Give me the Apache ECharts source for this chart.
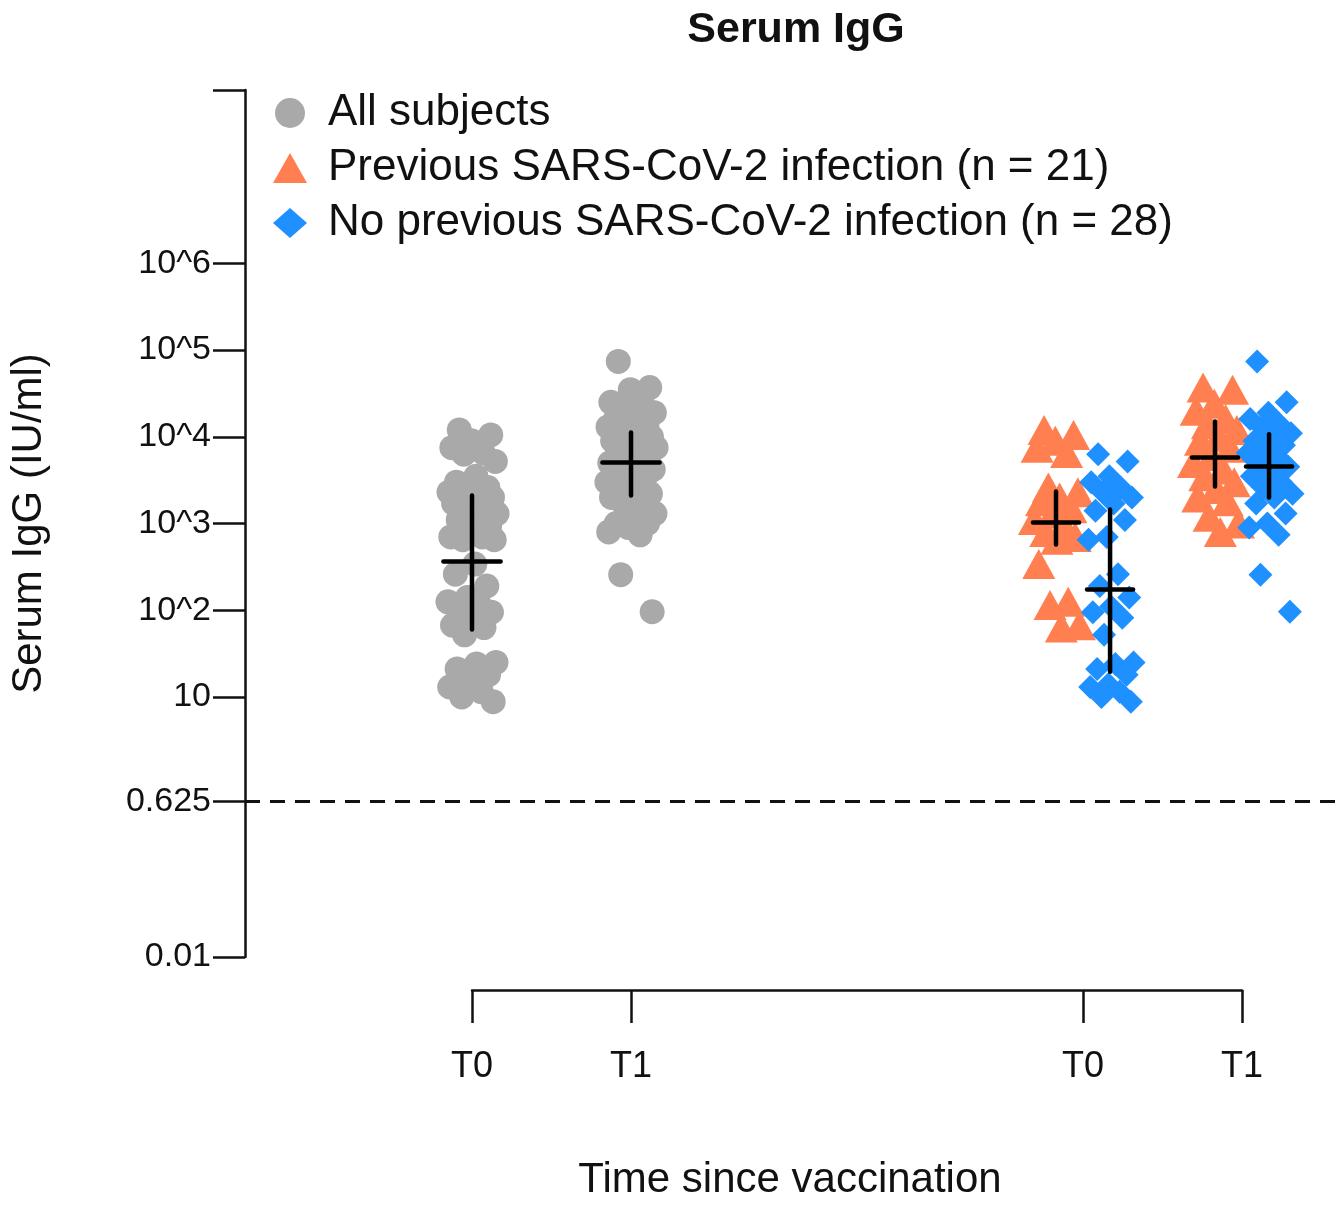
<!DOCTYPE html>
<html>
<head>
<meta charset="utf-8">
<script src="https://cdn.jsdelivr.net/npm/echarts@6/dist/echarts.min.js"></script>
<style>
html,body{margin:0;padding:0;background:#fff;}
#chart{width:1341px;height:1210px;}
</style>
</head>
<body>
<div id="chart"></div>
<script>
// ---------------- data (IU/ml) ----------------
const timeLabels = ['T0', 'T1'];
const seriesNames = ['All subjects', 'Previous SARS-CoV-2 infection (n = 21)', 'No previous SARS-CoV-2 infection (n = 28)'];

const prevT0 = [12000, 10500, 9000, 7500, 6500, 2600, 2300, 2000, 1800, 1500, 1300, 1100, 950, 800, 700, 650, 340, 125, 115, 67, 63];
const prevT1 = [37000, 35000, 24000, 20000, 16000, 14000, 12000, 10000, 9000, 7500, 6000, 5000, 4200, 3500, 3000, 2500, 2000, 1800, 1200, 1000, 800];
const noPrevT0 = [6300, 5200, 3500, 3000, 2600, 2300, 2000, 1700, 1400, 1100, 700, 650, 260, 190, 140, 110, 95, 82, 52, 25, 24, 21, 18, 14, 13, 11.5, 10, 8.8];
const noPrevT1 = [74000, 25000, 19000, 16000, 14000, 13000, 11000, 9800, 9000, 8000, 7000, 6500, 6000, 5000, 4500, 4000, 3500, 3000, 2600, 2200, 2000, 1700, 1300, 1000, 900, 740, 257, 96];

// summary (centre, lower, upper) per time point
const allMean = [364, 5060];
const allLow = [60, 2100];
const allHigh = [2100, 11200];
const prevMean = [1028, 5780];
const prevLow = [572, 2675];
const prevHigh = [2340, 15000];
const noPrevMean = [173, 4550];
const noPrevLow = [19.5, 2000];
const noPrevHigh = [1452, 10700];

const yTickValues = [0.01, 0.625, 10, 100, 1000, 10000, 100000, 1000000];
const yTickLabels = ['0.01', '0.625', '10', '10^2', '10^3', '10^4', '10^5', '10^6'];
const yTop = 1e8;
const lodValue = 0.625;

// ---------------- layout constants ----------------
const allT0 = prevT0.concat(noPrevT0);
const allT1 = prevT1.concat(noPrevT1);
const POS = { allT0: 1, allT1: 2, grpT0: 4.843, grpT1: 5.843 };
const SUB = 0.17;
const FONT = "'Liberation Sans', Arial, Helvetica, sans-serif";
const TXT = '#111';
const GRAY = '#a9a9a9', ORANGE = '#ff7f50', BLUE = '#1e90ff';

function jitter(values, center, halfW) {
  const order = values.map((v, i) => [v, i]).sort((a, b) => b[0] - a[0]);
  const out = new Array(values.length);
  order.forEach(([v, i], r) => {
    const f = ((r * 0.618034 + 0.25) % 1) - 0.5;
    out[i] = [center + f * 2 * halfW, Math.log10(v)];
  });
  return out;
}
const L = Math.log10;

const grayData = jitter(allT0, POS.allT0, 0.16).concat(jitter(allT1, POS.allT1, 0.16));
const orangeData = jitter(prevT0, POS.grpT0 - SUB, 0.15).concat(jitter(prevT1, POS.grpT1 - SUB, 0.15));
const blueData = jitter(noPrevT0, POS.grpT0 + SUB, 0.15).concat(jitter(noPrevT1, POS.grpT1 + SUB, 0.15));

const crossData = [
  [POS.allT0, L(allMean[0]), L(allLow[0]), L(allHigh[0]), 0.18],
  [POS.allT1, L(allMean[1]), L(allLow[1]), L(allHigh[1]), 0.18],
  [POS.grpT0 - SUB, L(prevMean[0]), L(prevLow[0]), L(prevHigh[0]), 0.145],
  [POS.grpT1 - SUB, L(prevMean[1]), L(prevLow[1]), L(prevHigh[1]), 0.145],
  [POS.grpT0 + SUB, L(noPrevMean[0]), L(noPrevLow[0]), L(noPrevHigh[0]), 0.145],
  [POS.grpT1 + SUB, L(noPrevMean[1]), L(noPrevLow[1]), L(noPrevHigh[1]), 0.145]
];

const xTickVals = [POS.allT0, POS.allT1, POS.grpT0, POS.grpT1];
const xTickText = [timeLabels[0], timeLabels[1], timeLabels[0], timeLabels[1]];

const chart = echarts.init(document.getElementById('chart'), null, { renderer: 'canvas' });
const option = {
  backgroundColor: '#fff',
  animation: false,
  textStyle: { fontFamily: FONT },
  title: {
    text: 'Serum IgG',
    left: 791, top: 4, textAlign: 'center',
    textStyle: { fontFamily: FONT, fontWeight: 'bold', fontSize: 43, color: TXT }
  },
  legend: {
    data: [
      { name: seriesNames[0], icon: 'circle' },
      { name: seriesNames[1], icon: 'triangle' },
      { name: seriesNames[2], icon: 'diamond' }
    ],
    orient: 'vertical',
    left: 268, top: 86,
    itemWidth: 34, itemHeight: 30,
    itemGap: 11,
    textStyle: { fontFamily: FONT, fontSize: 44, color: TXT, lineHeight: 44, padding: [0, 0, 0, 16] },
    selectedMode: false
  },
  grid: [
    { left: 245, right: 6, top: 90, bottom: 253, outerBoundsMode: 'none' },
    { left: 472, right: 99, top: 960, height: 30, outerBoundsMode: 'none' }
  ],
  xAxis: [
    {
      type: 'value', gridIndex: 0, min: -0.4277, max: 6.4277, position: 'bottom',
      axisLine: { show: false, onZero: false }, axisTick: { show: false }, axisLabel: { show: false }, splitLine: { show: false },
      name: 'Time since vaccination', nameLocation: 'middle', nameGap: 202,
      nameTextStyle: { fontFamily: FONT, fontSize: 42, color: TXT }
    },
    {
      type: 'value', gridIndex: 1, min: 1, max: 5.843, position: 'bottom',
      axisLine: { show: true, onZero: false, lineStyle: { color: '#111', width: 2.5 } },
      axisTick: { show: true, customValues: xTickVals, length: 33, lineStyle: { color: '#111', width: 2.5 } },
      axisLabel: {
        show: true, customValues: xTickVals, margin: 59,
        fontFamily: FONT, fontSize: 36, color: TXT,
        formatter: function (v) {
          for (let i = 0; i < xTickVals.length; i++) if (Math.abs(xTickVals[i] - v) < 1e-6) return xTickText[i];
          return '';
        }
      },
      splitLine: { show: false }
    }
  ],
  yAxis: [
    {
      type: 'value', gridIndex: 0, min: L(yTickValues[0]), max: L(yTop), position: 'left',
      axisLine: { show: true, onZero: false, lineStyle: { color: '#111', width: 2.5 } },
      axisTick: { show: true, customValues: yTickValues.map(L).concat([L(yTop)]), length: 32, lineStyle: { color: '#111', width: 2.5 } },
      axisLabel: {
        show: true, customValues: yTickValues.map(L), margin: 34,
        fontFamily: FONT, fontSize: 34, color: TXT,
        formatter: function (v) {
          for (let i = 0; i < yTickValues.length; i++) if (Math.abs(L(yTickValues[i]) - v) < 1e-6) return yTickLabels[i];
          return '';
        }
      },
      splitLine: { show: false },
      name: 'Serum IgG (IU/ml)', nameLocation: 'middle', nameGap: 195, nameRotate: 90,
      nameTextStyle: { fontFamily: FONT, fontSize: 42, color: TXT }
    },
    { type: 'value', gridIndex: 1, min: 0, max: 1, show: false }
  ],
  series: [
    {
      name: seriesNames[0], type: 'scatter', xAxisIndex: 0, yAxisIndex: 0,
      symbol: 'circle', symbolSize: 25, data: grayData,
      itemStyle: { color: GRAY, opacity: 1 }, z: 2,
      markLine: {
        silent: true, symbol: 'none', label: { show: false },
        lineStyle: { color: '#111', width: 3, type: [15, 10] },
        data: [{ yAxis: L(lodValue) }]
      }
    },
    {
      name: seriesNames[1], type: 'scatter', xAxisIndex: 0, yAxisIndex: 0,
      symbol: 'triangle', symbolSize: [33, 30], data: orangeData,
      itemStyle: { color: ORANGE, opacity: 1 }, z: 3
    },
    {
      name: seriesNames[2], type: 'scatter', xAxisIndex: 0, yAxisIndex: 0,
      symbol: 'diamond', symbolSize: 24, data: blueData,
      itemStyle: { color: BLUE, opacity: 1 }, z: 4
    },
    {
      name: 'summary', type: 'custom', xAxisIndex: 0, yAxisIndex: 0, z: 10,
      data: crossData,
      encode: { x: 0, y: [1, 2, 3] },
      renderItem: function (params, api) {
        const x = api.value(0), m = api.value(1), lo = api.value(2), hi = api.value(3), hw = api.value(4);
        const a = api.coord([x - hw, m]), b = api.coord([x + hw, m]);
        const c = api.coord([x, lo]), d = api.coord([x, hi]);
        const st = { stroke: '#000', lineWidth: 4.5, lineCap: 'round' };
        return {
          type: 'group',
          children: [
            { type: 'line', shape: { x1: a[0], y1: a[1], x2: b[0], y2: b[1] }, style: st },
            { type: 'line', shape: { x1: c[0], y1: c[1], x2: d[0], y2: d[1] }, style: st }
          ]
        };
      }
    }
  ]
};
chart.setOption(option);
</script>
</body>
</html>
